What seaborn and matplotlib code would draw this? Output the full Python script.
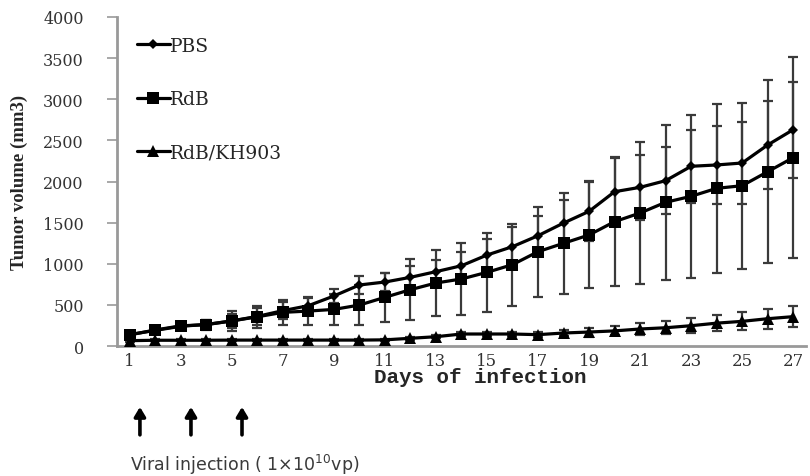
import numpy as np
import pandas as pd
import seaborn as sns
import matplotlib
matplotlib.use("Agg")
import matplotlib.pyplot as plt

sns.set_theme(style="white")
plt.rcParams['font.family'] = ['DejaVu Serif']

# data
days = list(range(1, 28))
pbs = [140, 190, 240, 262, 305, 360, 430, 490, 608, 742, 778, 835, 904, 976, 1106, 1208,
       1341, 1495, 1637, 1876, 1929, 2010, 2185, 2201, 2225, 2444, 2630]
pbs_err = [20, 30, 40, 60, 90, 100, 100, 90, 80, 109, 110, 134, 142, 163, 195, 235,
           243, 284, 365, 410, 397, 406, 445, 470, 495, 540, 585]
rdb = [135, 195, 245, 260, 305, 355, 409, 425, 445, 498, 592, 685, 766, 815, 896, 989,
       1147, 1249, 1350, 1512, 1617, 1747, 1820, 1917, 1949, 2119, 2290]
rdb_err = [30, 40, 50, 60, 120, 130, 150, 165, 185, 239, 296, 369, 397, 434, 479, 499,
           547, 617, 650, 786, 860, 940, 990, 1030, 1010, 1110, 1220]
kh = [65, 70, 70, 70, 72, 72, 72, 72, 72, 72, 75, 94, 113, 146, 146, 146,
      138, 158, 170, 184, 207, 222, 247, 278, 300, 332, 357]
kh_err = [15, 15, 15, 15, 15, 15, 15, 15, 15, 15, 15, 18, 20, 25, 25, 25,
          30, 40, 55, 55, 75, 80, 90, 100, 110, 120, 130]
groups = ["PBS", "RdB", "RdB/KH903"]
injection_days = [1, 3, 5]

df = pd.DataFrame({
    "day": days * 3,
    "volume": pbs + rdb + kh,
    "err": pbs_err + rdb_err + kh_err,
    "group": [g for g in groups for _ in days],
})

fig = plt.figure(figsize=(8.1, 4.77), dpi=100)
ax = fig.add_axes([0.1444, 0.2725, 0.8506, 0.6898])

markers = {"PBS": "D", "RdB": "s", "RdB/KH903": "^"}
sizes = {"PBS": 5.5, "RdB": 9, "RdB/KH903": 8}

for g in groups:
    sub = df[df["group"] == g]
    # error bars under the lines
    ax.errorbar(sub["day"], sub["volume"], yerr=sub["err"], fmt="none",
                ecolor="#3a3a3a", elinewidth=1.6, capsize=3.5, capthick=1.6, zorder=2)
    sns.lineplot(data=sub, x="day", y="volume", color="black", marker=markers[g],
                 markersize=sizes[g], markeredgewidth=0, linewidth=2.3,
                 label=g, ax=ax, zorder=3)

ax.set_xlim(0.5, 27.5)
ax.set_ylim(0, 4000)
ax.set_yticks(range(0, 4001, 500))
ax.set_xticks(days)
ax.set_xticklabels([str(d) if d % 2 == 1 else "" for d in days])
ax.set_xticks([d + 0.5 for d in range(0, 28)], minor=True)
ax.tick_params(axis="x", which="major", length=0, labelsize=12, pad=4, labelcolor="#333333")
ax.tick_params(axis="x", which="minor", length=5, width=1.2, color="#999999", direction="out")
ax.tick_params(axis="y", length=7, width=1.2, color="#999999", labelsize=11.5,
               labelcolor="#333333", direction="out", left=True, pad=17)

for s in ["top", "right"]:
    ax.spines[s].set_visible(False)
for s in ["left", "bottom"]:
    ax.spines[s].set_color("#999999")
    ax.spines[s].set_linewidth(2)

ax.set_xlabel("Days of infection", fontsize=15, fontweight="bold",
              family=["Liberation Mono", "DejaVu Sans Mono"], va="center")
ax.xaxis.set_label_coords(0.528, -0.094)
ax.set_ylabel("Tumor volume (mm3)", fontsize=13.5, fontweight="bold",
              family=["Liberation Serif", "DejaVu Serif"], va="center")
ax.yaxis.set_label_coords(-0.141, 0.5)

leg = ax.legend(loc="upper left", frameon=False, fontsize=13.5, handlelength=1.75,
                handletextpad=0.0, labelspacing=1.88, borderaxespad=0.0,
                bbox_to_anchor=(0.018, 0.962))

for d in injection_days:
    ax.annotate("", xy=(d + 0.4, -0.185), xytext=(d + 0.4, -0.27),
                xycoords=("data", "axes fraction"), textcoords=("data", "axes fraction"),
                arrowprops=dict(arrowstyle="-|>,head_length=0.5,head_width=0.3",
                                color="black", lw=2.6, mutation_scale=11,
                                shrinkA=0, shrinkB=0),
                annotation_clip=False)

fig.text(130 / 810, 1 - 465 / 477, "Viral injection ( 1\u00d710$^{10}$vp)",
         fontsize=12.5, color="#3a3a3a", va="center", ha="left", family="DejaVu Sans")

fig.savefig("out.png", dpi=100)
